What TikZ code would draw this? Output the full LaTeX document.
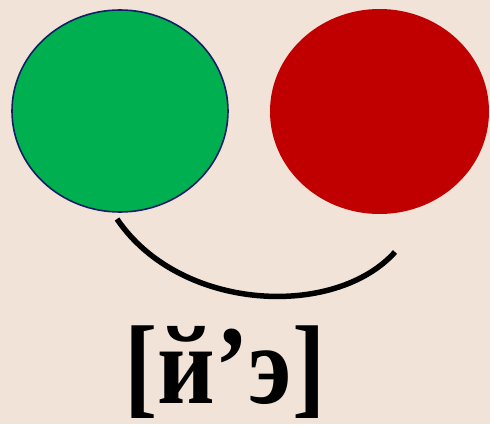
\documentclass[tikz,border=0pt]{standalone}
\usepackage{fontspec}
\setmainfont{Liberation Serif}
\usetikzlibrary{shapes.geometric}
\definecolor{SndPaper}{RGB}{241,227,215}
\definecolor{SndGreen}{RGB}{0,176,80}
\definecolor{SndRed}{RGB}{192,0,0}
\definecolor{SndNavy}{RGB}{20,30,100}
\tikzset{
  snd/vowel/.style={
    ellipse,
    fill=SndGreen,
    draw=SndNavy,
    line width=1.6pt,
    minimum width=216pt,
    minimum height=202pt,
    inner sep=0pt
  },
  snd/cons/.style={
    ellipse,
    fill=SndRed,
    draw=none,
    minimum width=219pt,
    minimum height=205pt,
    inner sep=0pt
  },
  snd/link/.style={line width=5.5pt, draw=black},
  snd/scheme/.style={font=\fontsize{100}{110}\selectfont\bfseries, text=black, inner sep=0pt}
}
\begin{document}
\begin{tikzpicture}[x=1pt,y=1pt]
  \useasboundingbox (0,0) rectangle (490,424);
  \fill[SndPaper] (0,0) rectangle (490,424);
  \node[snd/vowel] (green) at (120,313) {};
  \node[snd/cons] (red) at (379.5,312.5) {};
  \coordinate (linkL) at (117,205);
  \coordinate (linkR) at (395,172);
  \draw[snd/link] (linkL) .. controls (180,112) and (335,105) .. (linkR);
  \node[snd/scheme,anchor=base,yscale=1.12,transform shape] (word) at (225,21) {[й’э]};
\end{tikzpicture}
\end{document}
